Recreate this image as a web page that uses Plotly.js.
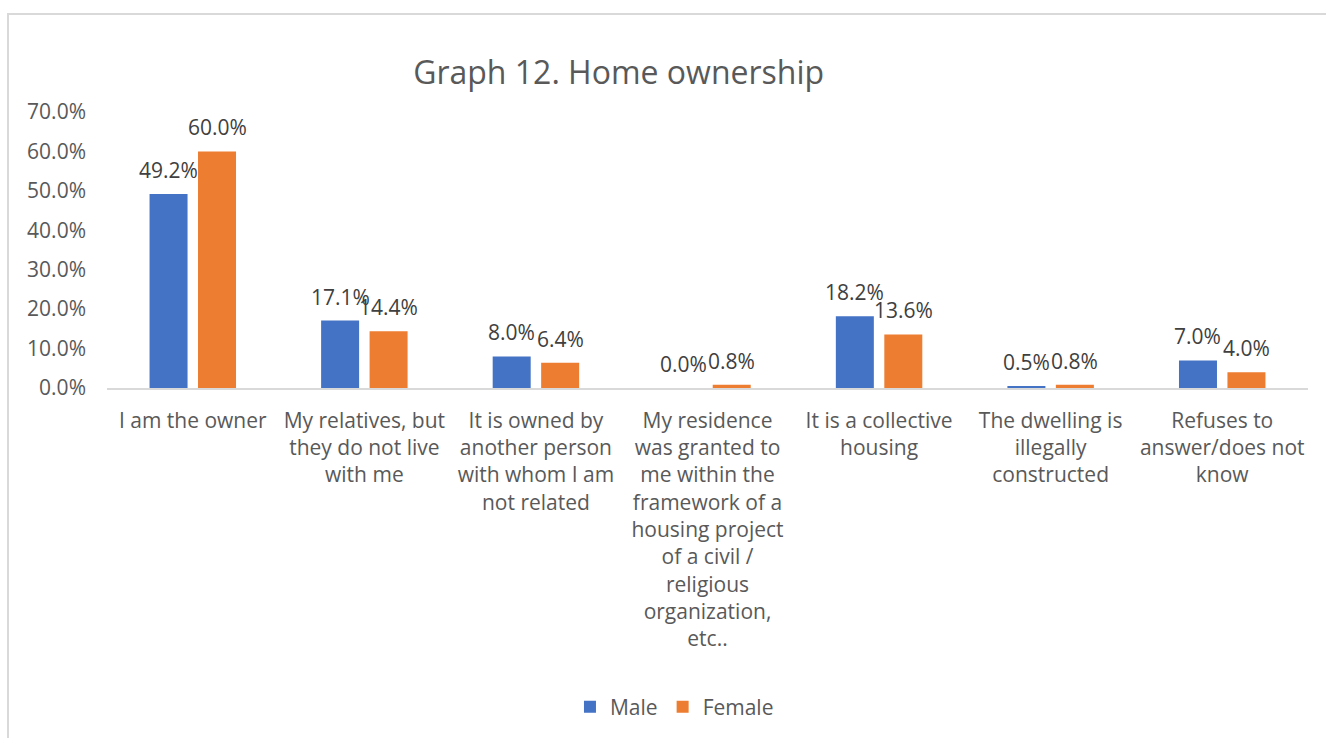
<!DOCTYPE html>
<html>
<head>
<meta charset="utf-8">
<script src="https://cdn.plot.ly/plotly-3.0.1.min.js"></script>
<style>
  html, body { margin: 0; padding: 0; width: 1326px; height: 738px; overflow: hidden; background: #fff; }
  #frame { position: absolute; left: 7px; top: 13px; width: 1400px; height: 800px; border: 2px solid #d9d9d9; box-sizing: border-box; }
  #chart { position: absolute; left: 0; top: 0; width: 1326px; height: 738px; }
</style>
</head>
<body>
<div id="frame"></div>
<div id="chart"></div>
<script>
const categories = [
  "I am the owner",
  "My relatives, but<br>they do not live<br>with me",
  "It is owned by<br>another person<br>with whom I am<br>not related",
  "My residence<br>was granted to<br>me within the<br>framework of a<br>housing project<br>of a civil /<br>religious<br>organization,<br>etc..",
  "It is a collective<br>housing",
  "The dwelling is<br>illegally<br>constructed",
  "Refuses to<br>answer/does not<br>know"
];
const male = [49.2, 17.1, 8.0, 0.0, 18.2, 0.5, 7.0];
const female = [60.0, 14.4, 6.4, 0.8, 13.6, 0.8, 4.0];
const yTicks = [0, 10, 20, 30, 40, 50, 60, 70];

const FONT = "Open Sans, Lato, sans-serif";

// geometry (style only)
const W = 1326, H = 738;
const M = { l: 107, r: 18, t: 112, b: 349 };
const BARGAP = 0.435, BARGROUPGAP = 0.216;
const catWidth = (W - M.l - M.r) / categories.length;
const slot = catWidth * (1 - BARGAP) / 2;

const traces = [
  { type: 'bar', name: 'Male', x: categories, y: male, marker: { color: '#4472C4' }, hoverinfo: 'skip' },
  { type: 'bar', name: 'Female', x: categories, y: female, marker: { color: '#ED7D31' }, hoverinfo: 'skip' }
];

// data labels placed through the axes' own scales
const annotations = [];
[[male, -slot / 2], [female, slot / 2]].forEach(([vals, dx]) => {
  vals.forEach((v, i) => {
    annotations.push({
      x: categories[i], y: v, xref: 'x', yref: 'y',
      text: v.toFixed(1) + '%',
      showarrow: false,
      xshift: dx, yshift: 24,
      xanchor: 'center', yanchor: 'middle',
      font: { family: FONT, size: 21, color: '#404040' }
    });
  });
});

const layout = {
  width: W, height: H,
  paper_bgcolor: 'rgba(0,0,0,0)', plot_bgcolor: 'rgba(0,0,0,0)',
  margin: M,
  font: { family: FONT, size: 21, color: '#595959' },
  title: {
    text: 'Graph 12. Home ownership',
    font: { family: FONT, size: 32, color: '#595959' },
    xref: 'paper', x: 0.426, xanchor: 'center',
    yref: 'container', y: 0.901, yanchor: 'middle'
  },
  barmode: 'group',
  bargap: BARGAP,
  bargroupgap: BARGROUPGAP,
  xaxis: {
    type: 'category',
    showline: true, linecolor: '#d9d9d9', linewidth: 1.5,
    showgrid: false, ticks: '', zeroline: false,
    tickangle: 0,
    ticklabelstandoff: 13,
    tickfont: { family: FONT, size: 21, color: '#595959' },
    automargin: false
  },
  yaxis: {
    range: [0, 70],
    tickvals: yTicks,
    ticktext: yTicks.map(v => v.toFixed(1) + '%'),
    showgrid: false, zeroline: false, showline: false, ticks: '',
    ticklabelstandoff: 20,
    tickfont: { family: FONT, size: 21, color: '#595959' },
    automargin: false
  },
  annotations: annotations,
  showlegend: true,
  legend: {
    orientation: 'h',
    x: 0.4725, xanchor: 'center',
    y: -1.148, yanchor: 'middle',
    font: { family: FONT, size: 21, color: '#595959' },
    itemwidth: 30,
    traceorder: 'normal'
  }
};

Plotly.newPlot('chart', traces, layout, { displayModeBar: false, staticPlot: true });
</script>
</body>
</html>
